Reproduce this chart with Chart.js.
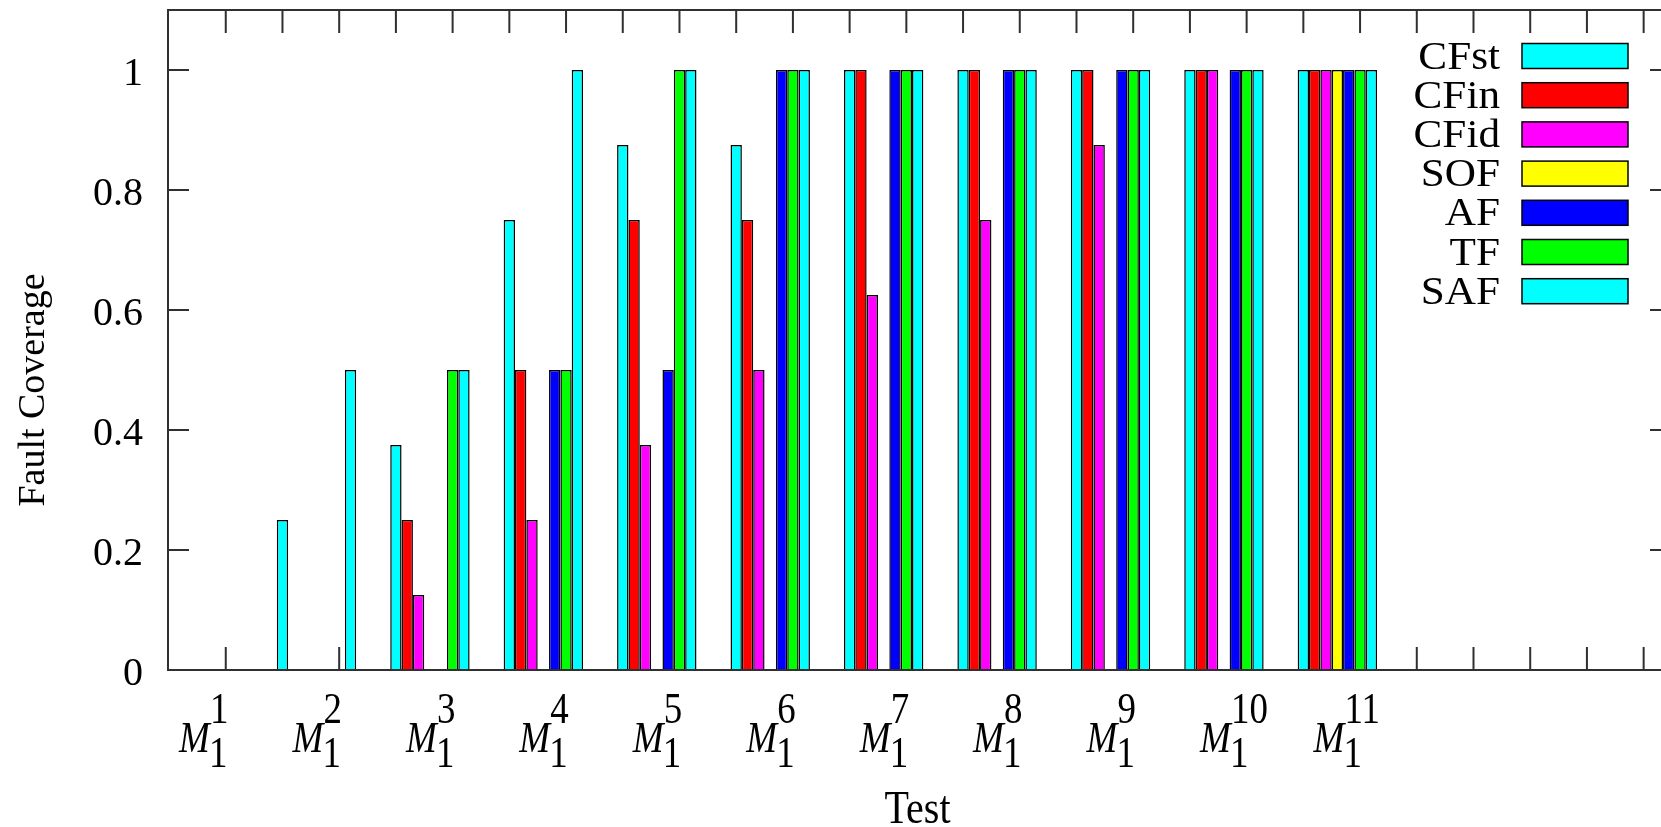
<!DOCTYPE html>
<html>
<head>
<meta charset="utf-8">
<script src="https://cdn.jsdelivr.net/npm/chart.js@4.4.1/dist/chart.umd.min.js"></script>
<style>
    html, body { margin: 0; padding: 0; background: #fff; overflow: hidden; }
    #wrap { width: 1661px; height: 827px; overflow: hidden; }
</style>
</head>
<body>
<div id="wrap"><canvas id="coverageChart" width="1680" height="827"></canvas></div>
<script>
// test index (superscript of M_1), position of each group on the x axis
const tests = ['1', '2', '3', '4', '5', '6', '7', '8', '9', '10', '11'];
const testX = [3, 13, 23, 33, 43, 53, 63, 73, 83, 93, 103];

const xTicks = [5, 10, 15, 20, 25, 30, 35, 40, 45, 50, 55, 60, 65, 70, 75, 80, 85, 90, 95, 100, 105, 110, 115, 120, 125, 130];
const yTicks = [0, 0.2, 0.4, 0.6, 0.8, 1];
const yTickLabels = ['0', '0.2', '0.4', '0.6', '0.8', '1'];

const cfst = [0, 0.25, 0.375, 0.75, 0.875, 0.875, 1, 1, 1, 1, 1];
const cfin = [0, 0, 0.25, 0.5, 0.75, 0.75, 1, 1, 1, 1, 1];
const cfid = [0, 0, 0.125, 0.25, 0.375, 0.5, 0.625, 0.75, 0.875, 1, 1];
const sof  = [0, 0, 0, 0, 0, 0, 0, 0, 0, 0, 1];
const af   = [0, 0, 0, 0.5, 0.5, 1, 1, 1, 1, 1, 1];
const tf   = [0, 0, 0.5, 0.5, 1, 1, 1, 1, 1, 1, 1];
const saf  = [0, 0.5, 0.5, 1, 1, 1, 1, 1, 1, 1, 1];

const SERIF = "'Liberation Serif', 'Times New Roman', serif";
const LINE = '#303030';

function points(values) {
    return values.map((v, i) => ({ x: testX[i], y: v }));
}

function series(label, values, color) {
    return {
        label: label,
        data: points(values),
        backgroundColor: color,
        borderColor: '#000',
        borderWidth: 1.5,
    };
}

function drawText(ctx, str, x, y, font, sx, align) {
    ctx.save();
    ctx.font = font;
    ctx.translate(x, y);
    ctx.scale(sx, 1);
    ctx.textAlign = align || 'left';
    ctx.fillText(str, 0, 0);
    ctx.restore();
}

const framePlugin = {
    id: 'frame',
    beforeDatasetsDraw(chart) {
        const { ctx, chartArea: a, scales: { x, y } } = chart;
        ctx.save();
        ctx.strokeStyle = LINE;
        ctx.lineWidth = 2;
        ctx.beginPath();
        xTicks.forEach(v => {
            const px = x.getPixelForValue(v);
            ctx.moveTo(px, a.top);
            ctx.lineTo(px, a.top + 23);
            ctx.moveTo(px, a.bottom);
            ctx.lineTo(px, a.bottom - 23);
        });
        yTicks.forEach(v => {
            if (v === 0) return;
            const py = y.getPixelForValue(v);
            ctx.moveTo(a.left, py);
            ctx.lineTo(a.left + 22, py);
            ctx.moveTo(a.right, py);
            ctx.lineTo(a.right - 22, py);
        });
        ctx.stroke();
        ctx.restore();
    },
    afterDatasetsDraw(chart) {
        const { ctx, chartArea: a } = chart;
        ctx.save();
        ctx.strokeStyle = LINE;
        ctx.lineWidth = 2;
        ctx.strokeRect(a.left + 1, a.top, a.right - a.left, a.bottom - a.top);

        // legend: label right aligned, swatch on the right
        ctx.textBaseline = 'middle';
        chart.data.datasets.forEach((ds, i) => {
            const cy = 56 + i * 39.2;
            ctx.fillStyle = ds.backgroundColor;
            ctx.fillRect(1522, cy - 12.5, 106, 25);
            ctx.strokeStyle = '#000';
            ctx.lineWidth = 1.5;
            ctx.strokeRect(1522, cy - 12.5, 106, 25);
            ctx.fillStyle = '#000';
            drawText(ctx, ds.label, 1500, cy + 2, '40px ' + SERIF, 1.08, 'right');
        });
        ctx.restore();
    },
    afterDraw(chart) {
        const { ctx, chartArea: a, scales: { x } } = chart;
        ctx.save();
        ctx.fillStyle = '#000';
        ctx.textBaseline = 'alphabetic';

        // M_1^n labels under each group
        tests.forEach((t, i) => {
            const left = x.getPixelForValue(testX[i]) - 24;
            drawText(ctx, 'M', left, a.bottom + 82, 'italic 45px ' + SERIF, 0.82);
            drawText(ctx, '1', left + 30, a.bottom + 97, '45px ' + SERIF, 0.82);
            drawText(ctx, t, left + 31, a.bottom + 53, '45px ' + SERIF, 0.82);
        });

        drawText(ctx, 'Test', (a.left + a.right) / 2 - 2, 823, '46px ' + SERIF, 0.87, 'center');

        ctx.translate(44, 390);
        ctx.rotate(-Math.PI / 2);
        ctx.font = '38px ' + SERIF;
        ctx.textAlign = 'center';
        ctx.fillText('Fault Coverage', 0, 0);
        ctx.restore();
    },
};

new Chart(document.getElementById('coverageChart'), {
    type: 'bar',
    data: {
        datasets: [
            series('CFst', cfst, '#00ffff'),
            series('CFin', cfin, '#ff0000'),
            series('CFid', cfid, '#ff00ff'),
            series('SOF', sof, '#ffff00'),
            series('AF', af, '#0000ff'),
            series('TF', tf, '#00ff00'),
            series('SAF', saf, '#00ffff'),
        ],
    },
    options: {
        responsive: false,
        animation: false,
        events: [],
        barPercentage: 1,
        categoryPercentage: 0.7,
        layout: {
            padding: { top: 10, right: 8, bottom: 0, left: 0 },
        },
        plugins: {
            legend: { display: false },
            tooltip: { enabled: false },
        },
        scales: {
            x: {
                type: 'linear',
                min: -0.18,
                max: 132.5,
                grid: { display: false, drawTicks: false },
                border: { display: false },
                ticks: { display: false },
                afterBuildTicks: scale => { scale.ticks = []; },
                afterFit: scale => {
                    scale.height = 157;
                    scale.paddingLeft = 0;
                    scale.paddingRight = 0;
                },
            },
            y: {
                min: 0,
                max: 1.1,
                grid: { display: false, drawTicks: false },
                border: { display: false },
                afterBuildTicks: scale => {
                    scale.ticks = yTicks.map(v => ({ value: v }));
                },
                ticks: {
                    padding: 24,
                    labelOffset: 4,
                    color: '#000',
                    font: { family: SERIF, size: 40 },
                    callback: (value, index) => yTickLabels[index],
                },
                afterFit: scale => {
                    scale.width = 167;
                    scale.paddingTop = 0;
                    scale.paddingBottom = 0;
                },
            },
        },
    },
    plugins: [framePlugin],
});
</script>
</body>
</html>
